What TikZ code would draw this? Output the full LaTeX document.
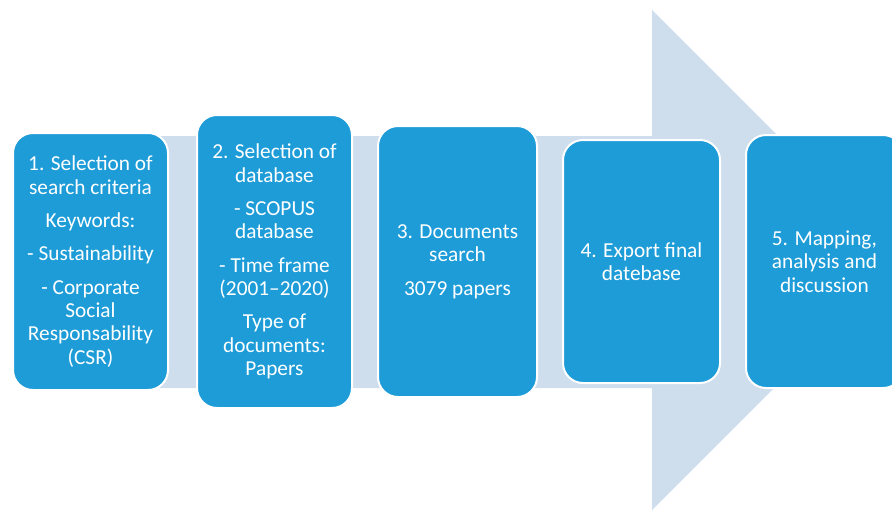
\documentclass[tikz,border=0pt]{standalone}
\usepackage{fontspec}
\setmainfont{Carlito}
\definecolor{boxblue}{RGB}{30,156,216}
\definecolor{arrowblue}{RGB}{206,222,237}
\begin{document}
\begin{tikzpicture}[x=0.75pt,y=-0.75pt,
  stepbox/.style={draw=white,line width=1.5pt,fill=boxblue,rounded corners=15pt,
    text=white,align=center,inner sep=0pt,
    font=\fontsize{16}{17.5}\selectfont}]
\useasboundingbox (0,0) rectangle (892,511);
\begin{scope}
\clip (0,0) rectangle (892,511);
\fill[arrowblue] (30,136) -- (652,136) -- (652,10) -- (902,260) -- (652,510) -- (652,388) -- (30,388) -- cycle;
\node[stepbox,minimum width=116.25pt,minimum height=192.75pt] (s1) at (90.5,261.5)
  {1. Selection of\\search criteria\\[7.5pt]Keywords:\\[7.5pt]- Sustainability\\[7.5pt]- Corporate\\Social\\Responsability\\(CSR)};
\node[stepbox,minimum width=116.25pt,minimum height=219.75pt] (s2) at (274.5,261.5)
  {2. Selection of\\database\\[7.5pt]- SCOPUS\\database\\[7.5pt]- Time frame\\(2001--2020)\\[7.5pt]Type of\\documents:\\Papers};
\node[stepbox,minimum width=119.25pt,minimum height=203.25pt] (s3) at (457.5,261.5)
  {3. Documents\\search\\[7.5pt]3079 papers};
\node[stepbox,minimum width=117.75pt,minimum height=182.25pt] (s4) at (641.5,261.5)
  {4. Export final\\datebase};
\node[stepbox,minimum width=117.75pt,minimum height=189.75pt] (s5) at (824.5,261.5)
  {5. Mapping,\\analysis and\\discussion};
\end{scope}
\end{tikzpicture}
\end{document}
